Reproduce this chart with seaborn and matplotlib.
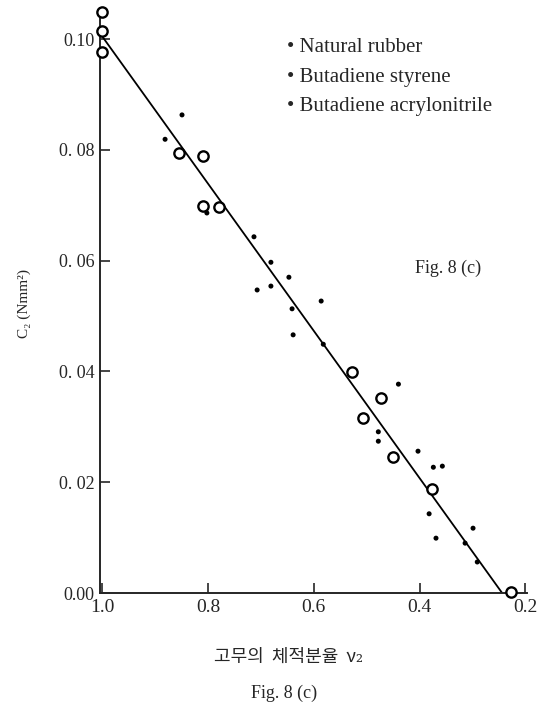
import pandas as pd
import matplotlib
matplotlib.use("Agg")
import matplotlib.pyplot as plt
import seaborn as sns

# Open circles (volume fraction v2, C2)
circle_v2 = [1.0, 1.0, 1.0, 0.854, 0.809, 0.809, 0.779, 0.527, 0.473, 0.507, 0.450, 0.376, 0.227]
circle_c2 = [0.1049, 0.1014, 0.0977, 0.0794, 0.0789, 0.0699, 0.0697, 0.0399, 0.0352, 0.0316, 0.0245, 0.0188, 0.0002]

# Small filled dots
dot_v2 = [0.849, 0.881, 0.802, 0.713, 0.681, 0.647, 0.707, 0.681, 0.586, 0.641, 0.639, 0.582,
          0.440, 0.478, 0.478, 0.403, 0.374, 0.357, 0.382, 0.299, 0.369, 0.314, 0.291]
dot_c2 = [0.0863, 0.0819, 0.0686, 0.0643, 0.0597, 0.0570, 0.0547, 0.0554, 0.0527, 0.0513, 0.0466, 0.0449,
          0.0377, 0.0291, 0.0274, 0.0256, 0.0227, 0.0229, 0.0143, 0.0117, 0.0099, 0.0090, 0.0056]

# Fitted straight line
fit_v2 = [1.0, 0.244]
fit_c2 = [0.1005, 0.0]

x_ticks = [1.0, 0.8, 0.6, 0.4, 0.2]
x_tick_labels = ["1.0", "0.8", "0.6", "0.4", "0.2"]
y_ticks = [0.00, 0.02, 0.04, 0.06, 0.08, 0.10]
y_tick_labels = ["0.00", "0. 02", "0. 04", "0. 06", "0. 08", "0.10"]
legend_names = ["Natural rubber", "Butadiene styrene", "Butadiene acrylonitrile"]

sns.set_style("ticks")
plt.rcParams['font.family'] = ['Liberation Serif', 'DejaVu Serif']

circles = pd.DataFrame({"v2": circle_v2, "c2": circle_c2})
dots = pd.DataFrame({"v2": dot_v2, "c2": dot_c2})
fit = pd.DataFrame({"v2": fit_v2, "c2": fit_c2})

fig = plt.figure(figsize=(5.5, 7.13), dpi=100)
ax = fig.add_axes([0.1818, 0.1683, 0.7764, 0.8205])

sns.lineplot(data=fit, x="v2", y="c2", color="black", linewidth=1.3, ax=ax, sort=False)
sns.scatterplot(data=dots, x="v2", y="c2", color="black", s=13, edgecolor="none", ax=ax)
sns.scatterplot(data=circles, x="v2", y="c2", s=55, facecolor="white", edgecolor="black",
                linewidth=1.7, ax=ax, clip_on=False, zorder=5)

ax.set_xlim(1.004, 0.197)
ax.set_ylim(0.0, 0.1056)
ax.set_xticks(x_ticks)
ax.set_xticklabels(x_tick_labels, fontsize=14)
ax.set_yticks(y_ticks)
ax.set_yticklabels(y_tick_labels, fontsize=13)
ax.tick_params(direction="in", length=7, width=1.2, pad=4)
sns.despine(ax=ax)
for side in ["left", "bottom"]:
    ax.spines[side].set_linewidth(1.4)

ax.set_xlabel("")
ax.set_ylabel("")

# Text legend in the upper right
for i, name in enumerate(legend_names):
    fig.text(0.522, 0.933 - i * 0.0414, "\u2022 " + name, fontsize=15, va="center", ha="left")

fig.text(0.755, 0.623, "Fig. 8 (c)", fontsize=13, va="center", ha="left")

fig.text(0.045, 0.575, "C\u2082 (Nmm\u00b2)", rotation=90, fontsize=11, va="center", ha="center")
fig.text(0.524, 0.079, "고무의  체적분율  \u03bd\u2082", fontsize=13, va="center", ha="center",
         family=['Noto Sans CJK KR', 'DejaVu Serif'])
fig.text(0.516, 0.027, "Fig. 8 (c)", fontsize=13, va="center", ha="center")

fig.savefig("out.png", dpi=100)
